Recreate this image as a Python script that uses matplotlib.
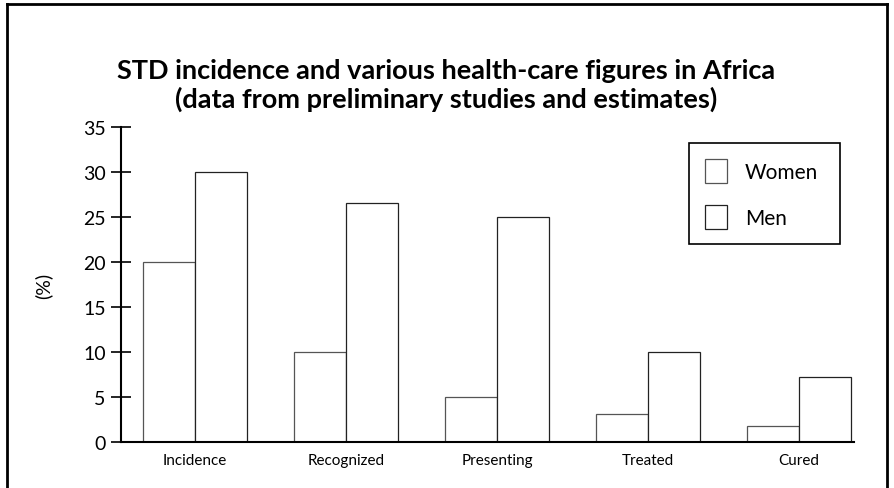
import matplotlib
matplotlib.use("Agg")
import matplotlib.pyplot as plt
import matplotlib.lines as mlines
import numpy as np

matplotlib.rc("font", family=["Lato", "DejaVu Sans"])

# data
categories = ["Incidence", "Recognized", "Presenting", "Treated", "Cured"]
women = [20, 10, 5, 3.1, 1.75]
men = [30, 26.6, 25, 10, 7.2]
yticks = [0, 5, 10, 15, 20, 25, 30, 35]

W, H = 894, 489
fig = plt.figure(figsize=(W / 100, H / 100), dpi=100, facecolor="white")

# axes placed by pixel position
ax = fig.add_axes([121 / W, 1 - 443 / H, (854 - 121) / W, (443 - 128) / H])

x = np.arange(len(categories))
bw = 0.344
ax.bar(x - bw / 2, women, width=bw, facecolor="white", edgecolor="#555555", linewidth=0.9, label="Women")
ax.bar(x + bw / 2, men, width=bw, facecolor="white", edgecolor="#222222", linewidth=0.9, label="Men")

ax.set_xlim(-0.49, 4.364)
ax.set_ylim(0, 35)
ax.set_yticks(yticks)
ax.set_xticks(x)
ax.set_xticklabels(categories, fontsize=11)
ax.tick_params(axis="x", length=0, pad=8)
ax.tick_params(axis="y", direction="inout", length=14, width=1.2, labelsize=14, pad=4)
for s in ["top", "right"]:
    ax.spines[s].set_visible(False)
ax.spines["left"].set_linewidth(1.5)
ax.spines["bottom"].set_linewidth(1.5)
ax.set_ylabel("(%)", fontsize=14, labelpad=22)

# legend box
leg = ax.legend(loc="upper left", bbox_to_anchor=(689 / W, 1 - 248 / H, 151 / W, 104 / H),
                bbox_transform=fig.transFigure, mode="expand", borderaxespad=0,
                fancybox=False, edgecolor="black", fontsize=15, framealpha=1,
                handlelength=1.06, handleheight=1.4, handletextpad=0.87,
                labelspacing=1.05, borderpad=0.75)
leg.get_frame().set_linewidth(1.2)

# title
fig.text(446 / W, 1 - 71 / H, "STD incidence and various health-care figures in Africa",
         ha="center", va="center", fontsize=19.5, fontweight="bold")
fig.text(446 / W, 1 - 99 / H, "(data from preliminary studies and estimates)",
         ha="center", va="center", fontsize=19.5, fontweight="bold")

# outer frame
fig.add_artist(mlines.Line2D([7 / W, 7 / W], [0, 1 - 5 / H], transform=fig.transFigure, color="black", lw=2))
fig.add_artist(mlines.Line2D([7 / W, 887 / W], [1 - 5 / H, 1 - 5 / H], transform=fig.transFigure, color="black", lw=2))
fig.add_artist(mlines.Line2D([887 / W, 887 / W], [0, 1 - 5 / H], transform=fig.transFigure, color="black", lw=2))

fig.savefig("out.png", dpi=100)
